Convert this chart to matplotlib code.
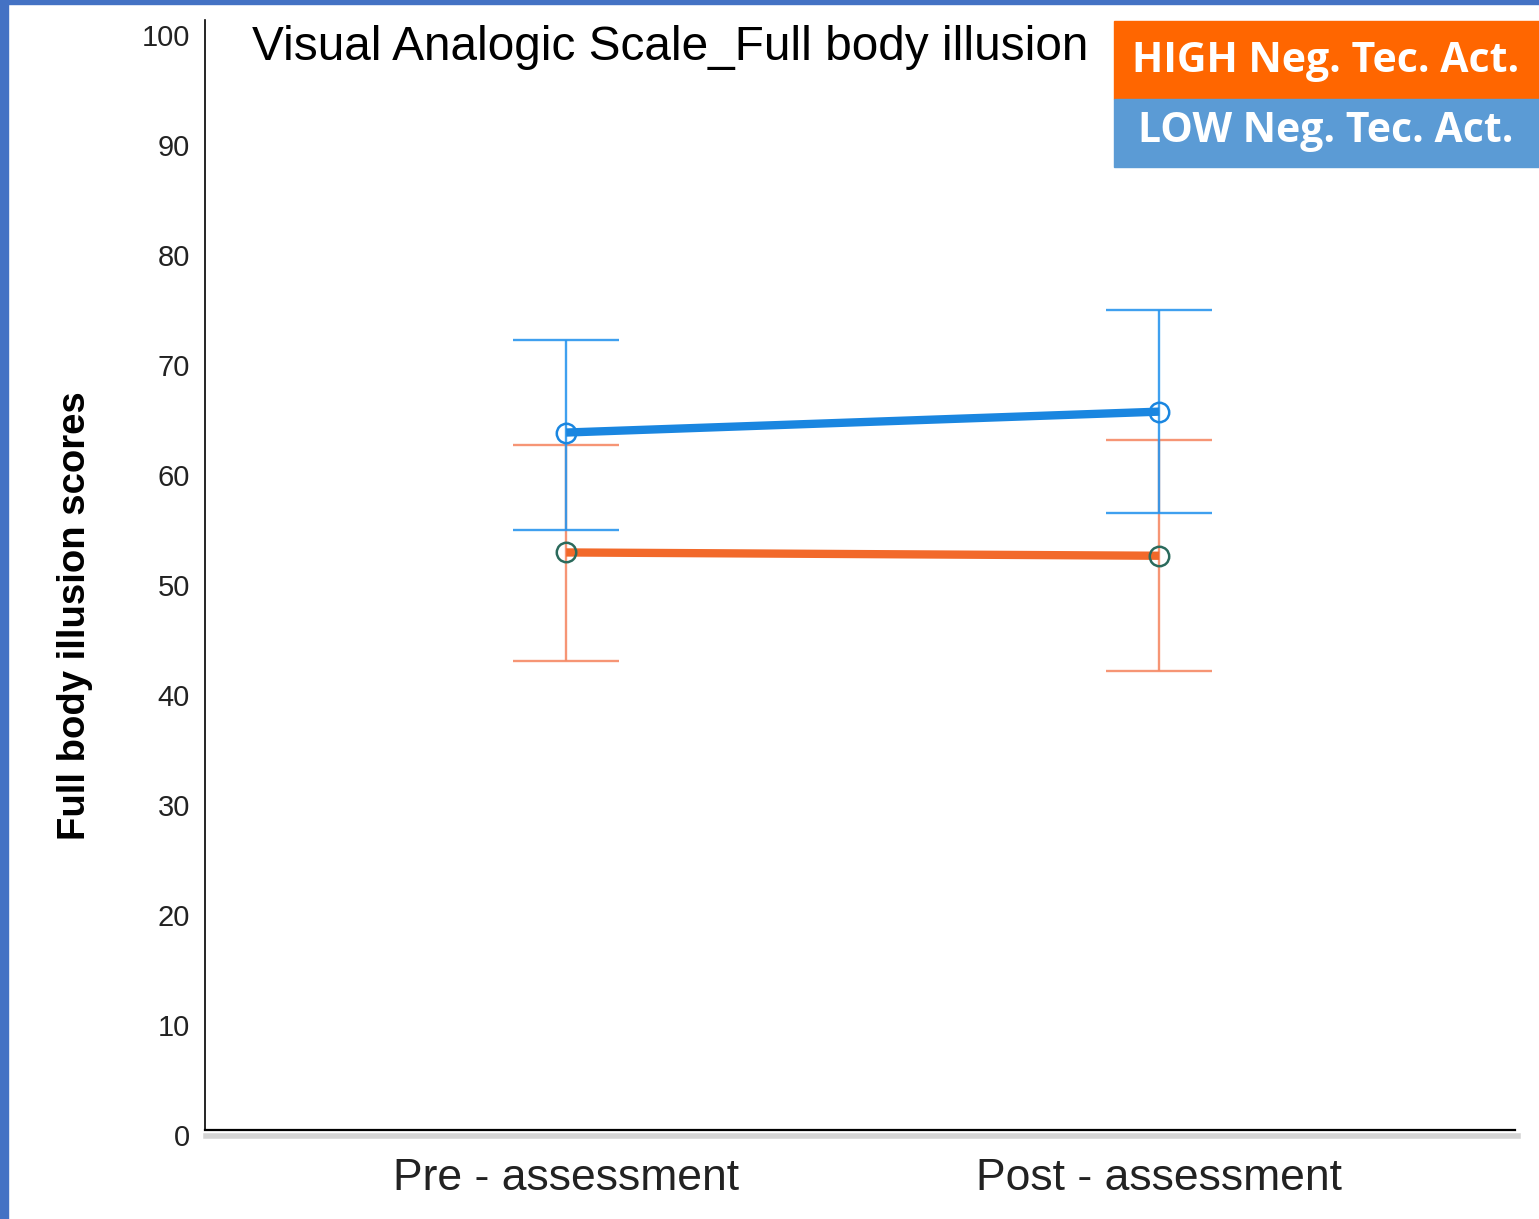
import numpy as np
import matplotlib
matplotlib.use("Agg")
import matplotlib.pyplot as plt
import matplotlib.transforms as mtransforms
from matplotlib.patches import Rectangle

# group means and error-bar limits (VAS, 0-100)
phases = ["Pre - assessment", "Post - assessment"]
low_mean = [63.4, 65.3]
low_upper = [71.8, 74.5]
low_lower = [54.5, 56.1]
high_mean = [52.5, 52.2]
high_upper = [62.3, 62.7]
high_lower = [42.6, 41.7]
legend_labels = ["HIGH Neg. Tec. Act.", "LOW Neg. Tec. Act."]
yticks = list(range(0, 101, 10))

BLUE = "#1a86e0"
BLUE_ERR = "#2a96ee"
ORANGE = "#f2692a"
ORANGE_ERR = "#f58a66"
GREEN = "#2b6a5c"

fig = plt.figure(figsize=(15.39, 12.19), dpi=100)
fig.patch.set_facecolor("white")

# slide frame
fig.patches.append(Rectangle((0, 0), 8 / 1539, 1, transform=fig.transFigure,
                             color="#4472c4", zorder=0))
fig.patches.append(Rectangle((0, 1 - 4 / 1219), 1, 4 / 1219, transform=fig.transFigure,
                             color="#4472c4", zorder=0))

ax = fig.add_axes([205 / 1539, 1 - 1130 / 1219, 1310 / 1539, 1110 / 1219])
x = np.arange(len(phases))


def draw_group(mean, upper, lower, line_col, err_col, edge_col):
    mean = np.asarray(mean)
    yerr = [mean - np.asarray(lower), np.asarray(upper) - mean]
    ax.errorbar(x, mean, yerr=yerr, fmt="none", ecolor=err_col, elinewidth=1.7,
                capsize=38, capthick=1.7, alpha=0.9, zorder=2)
    ax.plot(x, mean, color=line_col, lw=6, solid_capstyle="butt", zorder=3)
    ax.plot(x, mean, "o", ms=14, mfc="none", mec=edge_col, mew=1.8, zorder=4)


draw_group(high_mean, high_upper, high_lower, ORANGE, ORANGE_ERR, GREEN)
draw_group(low_mean, low_upper, low_lower, BLUE, BLUE_ERR, BLUE)

ax.set_xlim(-0.609, 1.600)
ax.set_ylim(0, 100.9)
ax.set_yticks(yticks)
ax.set_yticklabels([])

# y labels sit a little below their values
ylab_tr = (mtransforms.blended_transform_factory(ax.transAxes, ax.transData)
           + mtransforms.ScaledTranslation(-15 / 100, -8 / 100, fig.dpi_scale_trans))
for t in yticks:
    ax.text(0, t, str(t), transform=ylab_tr, ha="right", va="center",
            fontsize=21, color="#222222", family=["Liberation Sans", "DejaVu Sans"])

ax.set_xticks(x)
ax.set_xticklabels(phases, fontsize=32, color="#222222",
                   family=["Liberation Sans", "DejaVu Sans"])
ax.tick_params(axis="both", length=0)
ax.tick_params(axis="x", pad=20)

for s in ("top", "right"):
    ax.spines[s].set_visible(False)
ax.spines["left"].set_linewidth(1.2)
ax.spines["bottom"].set_linewidth(1.6)

# soft shadow under the x axis
ax.plot([-0.607, 1.605], [-0.55, -0.55], color="#d4d4d4", lw=4, clip_on=False, zorder=1)

fig.text(75 / 1539, 1 - 616 / 1219, "Full body illusion scores", rotation=90,
         ha="center", va="center", fontsize=27.5, fontweight="bold",
         family=["Liberation Sans", "DejaVu Sans"])

fig.text(252 / 1539, 1 - 48 / 1219, "Visual Analogic Scale_Full body illusion",
         ha="left", va="center", fontsize=34.4,
         family=["Liberation Sans", "DejaVu Sans"])

# legend blocks
fig.patches.append(Rectangle((1114 / 1539, 1 - 99 / 1219), 425 / 1539, 78 / 1219,
                             transform=fig.transFigure, color="#ff6600", zorder=5))
fig.patches.append(Rectangle((1114 / 1539, 1 - 167 / 1219), 425 / 1539, 68 / 1219,
                             transform=fig.transFigure, color="#5b9bd5", zorder=5))
fig.text(1326 / 1539, 1 - 62 / 1219, legend_labels[0], ha="center", va="center",
         fontsize=29.5, fontweight="bold", color="white", zorder=6,
         family=["Open Sans", "DejaVu Sans"])
fig.text(1326 / 1539, 1 - 131 / 1219, legend_labels[1], ha="center", va="center",
         fontsize=29.5, fontweight="bold", color="white", zorder=6,
         family=["Open Sans", "DejaVu Sans"])

fig.savefig("out.png", dpi=100)
